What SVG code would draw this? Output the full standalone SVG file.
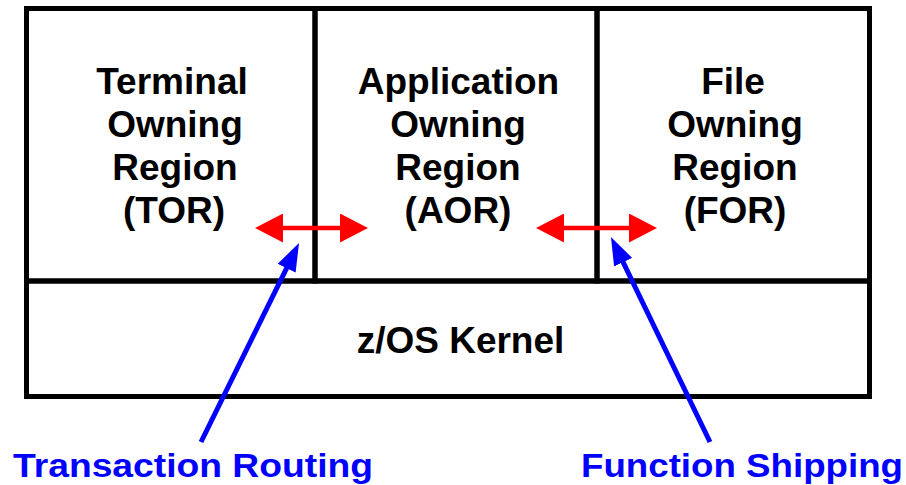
<svg xmlns="http://www.w3.org/2000/svg" width="906" height="485" viewBox="0 0 906 485">
<style>
.box{fill:none;stroke:#000;stroke-width:5}
.lbl{font-family:"Liberation Sans",Arial,sans-serif;font-weight:bold;font-size:37px;fill:#000;text-anchor:middle}
.cap{font-family:"Liberation Sans",Arial,sans-serif;font-weight:bold;font-size:34px;fill:#0000FF}
.red{stroke:#FF0000;stroke-width:4.5;fill:none}
.blue{stroke:#0000FF;stroke-width:5;fill:none}
</style>
<defs>
<marker id="rh" markerUnits="userSpaceOnUse" markerWidth="28" markerHeight="29" refX="18" refY="14.5" orient="auto-start-reverse" viewBox="0 0 28 29">
<path d="M0,0 L28,14.5 L0,29 z" fill="#FF0000"/>
</marker>
<marker id="bh" markerUnits="userSpaceOnUse" markerWidth="28" markerHeight="20" refX="18" refY="10" orient="auto" viewBox="0 0 28 20">
<path d="M0,0 L28,10 L0,20 z" fill="#0000FF"/>
</marker>
</defs>
<rect width="906" height="485" fill="#fff"/>
<g id="tor">
<rect class="box" x="26.5" y="8.5" width="288.5" height="272.5"/>
<text class="lbl" x="172" y="94">Terminal</text>
<text class="lbl" x="175" y="137">Owning</text>
<text class="lbl" x="175" y="180">Region</text>
<text class="lbl" x="174" y="223">(TOR)</text>
</g>
<g id="aor">
<rect class="box" x="315" y="8.5" width="282" height="272.5"/>
<text class="lbl" x="458.5" y="94">Application</text>
<text class="lbl" x="458" y="137">Owning</text>
<text class="lbl" x="458" y="180">Region</text>
<text class="lbl" x="458" y="223">(AOR)</text>
</g>
<g id="for">
<rect class="box" x="597" y="8.5" width="272.5" height="272.5"/>
<text class="lbl" x="733" y="94">File</text>
<text class="lbl" x="735" y="137">Owning</text>
<text class="lbl" x="735" y="180">Region</text>
<text class="lbl" x="735" y="223">(FOR)</text>
</g>
<g id="kernel">
<rect class="box" x="26.5" y="281" width="843" height="115.5"/>
<text class="lbl" x="460.5" y="353">z/OS Kernel</text>
</g>
<g id="connectors">
<line class="red" x1="265" y1="228" x2="358" y2="228" marker-start="url(#rh)" marker-end="url(#rh)"/>
<line class="red" x1="546" y1="228" x2="647" y2="228" marker-start="url(#rh)" marker-end="url(#rh)"/>
<line class="blue" x1="201" y1="442" x2="294.6" y2="252" marker-end="url(#bh)"/>
<line class="blue" x1="710" y1="442" x2="615.3" y2="246" marker-end="url(#bh)"/>
</g>
<g id="captions">
<text class="cap" x="13" y="477" textLength="360" lengthAdjust="spacingAndGlyphs">Transaction Routing</text>
<text class="cap" x="581" y="477" textLength="322" lengthAdjust="spacingAndGlyphs">Function Shipping</text>
</g>
</svg>
